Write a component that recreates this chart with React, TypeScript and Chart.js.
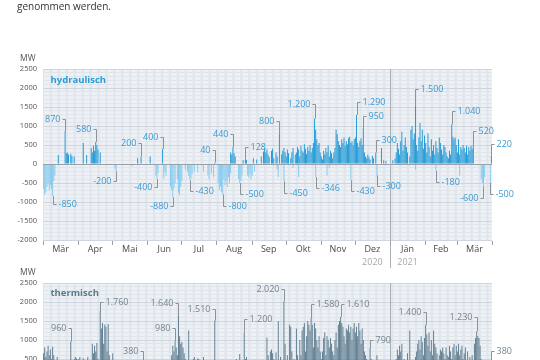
import React, { useEffect, useRef } from "react";
import { Chart, registerables } from "chart.js";

Chart.register(...registerables);

type Pt = [number, number]; // [day of month, MW]
type Note = [number, number, number, "L" | "R", number]; // [month index, day, MW, label side, label offset px]

// ---------- axis data ----------
const monthLabels = ["Mär", "Apr", "Mai", "Jun", "Jul", "Aug", "Sep", "Okt", "Nov", "Dez", "Jän", "Feb", "Mär"];
const monthLengths = [31, 30, 31, 30, 31, 31, 30, 31, 30, 31, 31, 28, 31];
const yearLabels: [string, number][] = [["2020", 9], ["2021", 10]];
const yearBreakMonth = 10;
const yMin = -2000;
const yMax = 2500;
const yLabelStep = 500;
const yGridStep = 100;

// ---------- hydraulisch, positive (MW) ----------
const hydPosMar20: Pt[] = [[14, 240], [20, 870], [21, 280], [22, 300], [23, 250], [25, 270], [26, 220], [28, 200]];
const hydPosApr20: Pt[] = [[5, 550], [8, 240], [12, 420], [13, 300], [14, 480], [15, 350], [16, 580], [17, 500], [18, 380], [20, 300]];
const hydPosMay20: Pt[] = [[23, 150], [26, 200]];
const hydPosJun20: Pt[] = [[3, 200], [14, 400]];
const hydPosJul20: Pt[] = [[30, 40]];
const hydPosAug20: Pt[] = [[13, 300], [14, 250], [15, 440], [16, 280], [17, 200], [24, 100], [26, 128], [27, 110]];
const hydPosSep20: Pt[] = [[2, 150], [5, 120], [9, 200], [11, 330], [12, 420], [13, 300], [14, 380], [15, 250], [16, 180], [18, 350], [19, 400], [20, 150], [22, 300], [23, 200], [25, 800], [27, 250], [28, 350], [29, 420], [30, 300]];
const hydPosOct20: Pt[] = [[1, 200], [2, 380], [3, 280], [5, 150], [6, 300], [7, 420], [9, 250], [10, 300], [11, 450], [12, 380], [13, 200], [14, 480], [15, 350], [16, 300], [17, 520], [18, 400], [19, 260], [20, 450], [21, 350], [22, 500], [23, 300], [24, 420], [25, 550], [26, 1200], [27, 900], [28, 650], [29, 500], [30, 550], [31, 300]];
const hydPosNov20: Pt[] = [[1, 200], [2, 120], [3, 350], [4, 250], [5, 420], [6, 300], [7, 480], [8, 200], [9, 350], [10, 280], [11, 150], [12, 300], [13, 420], [14, 900], [15, 780], [16, 600], [17, 500], [18, 450], [19, 650], [20, 550], [21, 700], [22, 480], [23, 600], [24, 520], [25, 680], [26, 720], [27, 550], [28, 600], [29, 500], [30, 650]];
const hydPosDec20: Pt[] = [[1, 700], [2, 1290], [3, 550], [4, 450], [5, 600], [6, 680], [7, 500], [8, 950], [9, 300], [10, 200], [11, 150], [12, 250], [13, 180], [14, 120], [16, 220], [17, 150], [19, 300], [24, 420], [26, 100], [28, 80]];
const hydPosJan21: Pt[] = [[3, 100], [5, 150], [6, 300], [7, 550], [8, 400], [9, 250], [10, 600], [11, 850], [12, 350], [13, 500], [14, 700], [15, 450], [16, 300], [18, 200], [19, 900], [20, 1000], [21, 650], [22, 800], [23, 1500], [24, 500], [25, 350], [26, 700], [27, 1080], [28, 600], [29, 900], [30, 400], [31, 750]];
const hydPosFeb21: Pt[] = [[1, 550], [2, 300], [3, 800], [4, 450], [5, 200], [6, 650], [7, 350], [8, 500], [9, 250], [10, 600], [11, 420], [12, 300], [13, 700], [14, 550], [15, 380], [16, 250], [17, 500], [18, 450], [19, 300], [20, 200], [21, 150], [22, 350], [23, 250], [24, 1040], [25, 720], [26, 650], [27, 700], [28, 500]];
const hydPosMar21: Pt[] = [[1, 300], [2, 650], [3, 250], [4, 450], [5, 380], [6, 500], [7, 420], [8, 300], [9, 480], [10, 250], [11, 450], [12, 350], [13, 480], [14, 400], [15, 520], [31, 220]];

// ---------- hydraulisch, negative (MW) ----------
const hydNegMar20: Pt[] = [[1, -650], [2, -800], [3, -750], [4, -600], [5, -500], [6, -700], [7, -550], [8, -650], [9, -850], [10, -450], [11, -300]];
const hydNegApr20: Pt[] = [];
const hydNegMay20: Pt[] = [[3, -120], [4, -200], [18, -60]];
const hydNegJun20: Pt[] = [[8, -300], [9, -400], [10, -250], [15, -380], [16, -200], [17, -300], [21, -600], [22, -700], [23, -880], [24, -650], [25, -500], [27, -400], [28, -750], [29, -820], [30, -600]];
const hydNegJul20: Pt[] = [[1, -450], [4, -150], [6, -200], [7, -300], [8, -430], [9, -380], [10, -250], [12, -200], [15, -220], [20, -200], [24, -300], [25, -400], [27, -250], [29, -350]];
const hydNegAug20: Pt[] = [[2, -500], [3, -700], [4, -600], [5, -750], [6, -800], [7, -400], [8, -550], [9, -450], [10, -600], [11, -350], [12, -500], [13, -250], [20, -400], [21, -500], [22, -450], [23, -300], [28, -300], [29, -350], [30, -250], [31, -400]];
const hydNegSep20: Pt[] = [[1, -300], [3, -200], [23, -150], [24, -340], [29, -450]];
const hydNegOct20: Pt[] = [[7, -100], [12, -340], [27, -346]];
const hydNegNov20: Pt[] = [[6, -300], [8, -100], [27, -430]];
const hydNegDec20: Pt[] = [[20, -300]];
const hydNegJan21: Pt[] = [[23, -150]];
const hydNegFeb21: Pt[] = [[10, -180]];
const hydNegMar21: Pt[] = [[3, -300], [22, -400], [23, -500], [24, -600], [25, -350], [30, -500]];

// ---------- thermisch (MW) ----------
const thMar20: Pt[] = [[1, 650], [2, 800], [3, 550], [4, 700], [5, 850], [6, 600], [7, 750], [8, 500], [9, 820], [10, 600], [12, 300], [13, 550], [15, 400], [18, 350], [20, 450], [22, 300], [25, 960], [27, 450], [28, 500], [29, 550], [30, 520], [31, 480]];
const thApr20: Pt[] = [[1, 500], [2, 550], [3, 400], [5, 520], [6, 480], [8, 350], [9, 550], [11, 450], [13, 900], [14, 650], [15, 850], [16, 700], [17, 920], [18, 500], [20, 1760], [21, 1300], [22, 1450], [23, 900], [24, 1400], [25, 1350], [26, 700], [27, 1420], [28, 600], [29, 450], [30, 400]];
const thMay20: Pt[] = [[1, 650], [3, 350], [5, 300], [8, 250], [12, 300], [16, 200], [20, 250], [24, 300], [28, 380]];
const thJun20: Pt[] = [[2, 200], [6, 250], [12, 300], [17, 350], [21, 450], [22, 600], [23, 850], [24, 700], [25, 980], [26, 800], [27, 600], [28, 1640], [29, 1100], [30, 900]];
const thJul20: Pt[] = [[1, 950], [2, 800], [3, 650], [4, 500], [7, 1250], [8, 400], [11, 500], [12, 550], [13, 480], [15, 520], [16, 500], [18, 450], [20, 550], [22, 300], [26, 400], [30, 1510]];
const thAug20: Pt[] = [[3, 300], [8, 350], [14, 450], [18, 500], [21, 630], [25, 1200], [26, 500], [27, 550], [29, 300]];
const thSep20: Pt[] = [[3, 350], [8, 400], [14, 1060], [15, 600], [17, 700], [18, 750], [19, 650], [20, 500], [22, 680], [24, 1500], [26, 550], [29, 2020], [30, 900]];
const thOct20: Pt[] = [[2, 600], [4, 1400], [5, 1350], [6, 700], [8, 500], [10, 1300], [11, 600], [13, 1000], [14, 600], [15, 1250], [16, 1350], [17, 1450], [18, 700], [19, 1100], [20, 1500], [21, 1400], [22, 1250], [23, 1580], [24, 1400], [25, 800], [26, 1450], [27, 1300], [28, 1000], [29, 800], [30, 1100], [31, 700]];
const thNov20: Pt[] = [[1, 500], [2, 700], [3, 1050], [4, 1200], [5, 600], [6, 1100], [7, 1000], [8, 800], [9, 1050], [10, 900], [11, 700], [12, 600], [13, 1000], [14, 1200], [15, 800], [16, 1400], [17, 1500], [18, 1610], [19, 1450], [20, 1350], [21, 1100], [22, 900], [23, 1300], [24, 1250], [25, 1400], [26, 1200], [27, 1350], [28, 1000], [29, 1300], [30, 1450]];
const thDec20: Pt[] = [[1, 1200], [2, 1350], [3, 1100], [4, 1450], [5, 1250], [6, 900], [7, 1300], [8, 1000], [9, 700], [10, 600], [11, 500], [13, 450], [14, 790], [15, 500], [17, 400], [20, 600], [24, 350], [28, 300]];
const thJan21: Pt[] = [[2, 300], [6, 500], [7, 750], [8, 600], [9, 850], [10, 700], [11, 900], [13, 500], [16, 650], [18, 1250], [20, 400], [23, 550], [24, 700], [25, 900], [26, 1000], [27, 750], [28, 1100], [29, 950], [30, 600], [31, 1050]];
const thFeb21: Pt[] = [[1, 1400], [2, 1150], [3, 850], [4, 1200], [5, 700], [6, 1000], [7, 600], [8, 1250], [9, 900], [10, 800], [11, 650], [13, 600], [14, 750], [15, 700], [16, 800], [17, 650], [18, 500], [19, 800], [20, 600], [21, 550], [22, 850], [23, 700], [24, 500], [25, 800], [26, 900], [27, 600], [28, 850]];
const thMar21: Pt[] = [[1, 700], [2, 900], [3, 600], [4, 750], [5, 850], [6, 500], [7, 650], [8, 800], [10, 700], [12, 550], [14, 600], [16, 900], [17, 1050], [18, 1230], [19, 1100], [20, 1050], [21, 850], [22, 500], [24, 300], [26, 250], [31, 380]];

// ---------- annotations ----------
const hydNotes: Note[] = [
  [0, 20, 870, "L", -12], [1, 16, 580, "L", -13], [2, 26, 200, "L", -13], [3, 14, 400, "L", -12],
  [4, 30, 40, "L", -12], [5, 15, 440, "L", -13], [5, 26, 128, "R", -12], [6, 25, 800, "L", -13],
  [7, 26, 1200, "L", -14], [9, 2, 1290, "R", -13], [9, 8, 950, "R", -12], [9, 19, 300, "R", -13],
  [10, 23, 1500, "R", -18], [11, 24, 1040, "R", -13], [12, 15, 520, "R", -13], [12, 31, 220, "R", -12],
  [0, 9, -850, "R", 8], [2, 4, -200, "L", 9], [3, 9, -400, "L", 8], [3, 23, -880, "L", 9],
  [4, 8, -430, "R", 11], [5, 6, -800, "R", 12], [5, 21, -500, "R", 11], [6, 29, -450, "R", 12],
  [7, 27, -346, "R", 11], [8, 27, -430, "R", 11], [9, 20, -300, "R", 11], [11, 10, -180, "R", 11],
  [12, 24, -600, "L", 11], [12, 30, -500, "R", 11],
];
const thNotes: Note[] = [
  [0, 25, 960, "L", -14], [1, 20, 1760, "R", -9], [2, 28, 380, "L", -13], [3, 25, 980, "L", -13],
  [3, 28, 1640, "L", -13], [4, 30, 1510, "L", -12], [5, 25, 1200, "R", -13], [6, 29, 2020, "L", -12],
  [7, 23, 1580, "R", -14], [8, 18, 1610, "R", -13], [9, 14, 790, "R", -8], [11, 1, 1400, "L", -13],
  [12, 18, 1230, "L", -14], [12, 31, 380, "R", -13],
];

// ---------- helpers ----------
const FONT = "'Open Sans', 'Noto Sans', sans-serif";
const monthStart: number[] = [];
monthLengths.reduce((acc, n) => { monthStart.push(acc); return acc + n; }, 0);
const totalDays = monthLengths.reduce((a, b) => a + b, 0);

const toPoints = (months: Pt[][]) =>
  months.flatMap((arr, m) => arr.map(([d, v]) => ({ x: monthStart[m] + d - 0.5, y: v })));

const fmt = (v: number) => (v < 0 ? "-" : "") + Math.abs(v).toString().replace(/\B(?=(\d{3})+(?!\d))/g, ".");

interface PanelCfg {
  plotTop: number;
  height: number;
  title: string;
  titleColor: string;
  titleY: number;
  mwY: number;
  header?: string;
  noteColor: string;
  notes: Note[];
  series: { months: Pt[][]; color: string }[];
}

const PLOT_BG = "#edf0f4";
const WEEKEND_BG = "#e0e6ed";

function makeDecor(p: PanelCfg) {
  return {
    id: "decor",
    beforeDraw(chart: any) {
      const { ctx, chartArea: a, scales } = chart;
      const x = scales.x;
      ctx.save();
      ctx.fillStyle = PLOT_BG;
      ctx.fillRect(a.left, a.top, a.right - a.left, a.bottom - a.top);
      ctx.fillStyle = WEEKEND_BG;
      for (let s = -1; s < totalDays; s += 7) {
        const x0 = x.getPixelForValue(Math.max(s, 0));
        const x1 = x.getPixelForValue(Math.min(s + 2, totalDays));
        ctx.fillRect(x0, a.top, x1 - x0, a.bottom - a.top);
      }
      ctx.restore();
    },
    afterDatasetsDraw(chart: any) {
      const { ctx, chartArea: a, scales } = chart;
      const x = scales.x;
      const y = scales.y;
      ctx.save();
      ctx.lineWidth = 1;
      const line = (x0: number, y0: number, x1: number, y1: number, c: string) => {
        ctx.strokeStyle = c;
        ctx.beginPath();
        ctx.moveTo(x0, y0);
        ctx.lineTo(x1, y1);
        ctx.stroke();
      };
      const yz = Math.round(y.getPixelForValue(0)) + 0.5;
      line(a.left, yz, a.right, yz, "#98a0a8");
      const xb = Math.round(x.getPixelForValue(monthStart[yearBreakMonth])) + 0.5;
      line(xb, a.top, xb, a.bottom + 28, "#aab1b8");
      for (let i = 0; i <= monthLengths.length; i++) {
        const v = i < monthLengths.length ? monthStart[i] : totalDays;
        const px = Math.round(x.getPixelForValue(v)) + 0.5;
        line(px, a.bottom + 1, px, a.bottom + 5, "#9aa0a6");
      }
      ctx.font = `9px ${FONT}`;
      ctx.fillStyle = "#a3a9ae";
      ctx.textAlign = "center";
      ctx.textBaseline = "middle";
      yearLabels.forEach(([t, m]) => ctx.fillText(t, x.getPixelForValue(monthStart[m] + monthLengths[m] / 2), a.bottom + 22));

      ctx.font = `9px ${FONT}`;
      p.notes.forEach(([m, d, v, side, dy]) => {
        const bx = Math.round(x.getPixelForValue(monthStart[m] + d - 0.5)) + 0.5;
        const by = y.getPixelForValue(v);
        const ly = Math.round(by + dy) + 0.5;
        const dir = side === "L" ? -1 : 1;
        ctx.strokeStyle = "#8c9297";
        ctx.beginPath();
        ctx.moveTo(bx, by);
        ctx.lineTo(bx, ly);
        ctx.lineTo(bx + dir * 3, ly);
        ctx.stroke();
        ctx.fillStyle = p.noteColor;
        ctx.textAlign = side === "L" ? "right" : "left";
        ctx.textBaseline = "middle";
        ctx.fillText(fmt(v), bx + dir * 5, ly);
      });

      ctx.textBaseline = "alphabetic";
      ctx.textAlign = "left";
      ctx.font = `bold 9.5px ${FONT}`;
      ctx.fillStyle = p.titleColor;
      ctx.fillText(p.title, a.left + 7.5, p.titleY);
      ctx.font = `8.5px ${FONT}`;
      ctx.fillStyle = "#555";
      ctx.fillText("MW", 20, p.mwY);
      if (p.header) {
        ctx.font = `10px ${FONT}`;
        ctx.fillStyle = "#333";
        ctx.fillText(p.header, 17, 9.5);
      }
      ctx.restore();
    },
  };
}

function buildChart(canvas: HTMLCanvasElement, p: PanelCfg) {
  const yTickVals: number[] = [];
  for (let v = yMin; v <= yMax; v += yGridStep) yTickVals.push(v);
  const xTickVals = monthStart.map((s, i) => s + monthLengths[i] / 2);
  return new Chart(canvas, {
    type: "bar",
    data: {
      datasets: p.series.map((s) => ({
        data: toPoints(s.months) as any,
        backgroundColor: s.color,
        borderWidth: 0,
        grouped: false,
        categoryPercentage: 1,
        barPercentage: 0.85,
      })),
    },
    options: {
      animation: false,
      responsive: false,
      maintainAspectRatio: false,
      layout: { padding: { left: 0, right: 540 - 492, top: p.plotTop, bottom: 0 } },
      plugins: { legend: { display: false }, tooltip: { enabled: false } },
      scales: {
        x: {
          type: "linear",
          min: 0,
          max: totalDays,
          offset: false,
          grid: { display: false, drawTicks: false },
          border: { display: false },
          afterBuildTicks: (s: any) => { s.ticks = xTickVals.map((v) => ({ value: v })); },
          afterFit: (s: any) => { s.height = 30; },
          ticks: {
            autoSkip: false,
            maxRotation: 0,
            padding: 4,
            color: "#4a4a4a",
            font: { family: FONT, size: 9 },
            callback: (_v: any, i: number) => monthLabels[i],
          },
        },
        y: {
          min: yMin,
          max: yMax,
          afterBuildTicks: (s: any) => { s.ticks = yTickVals.map((v) => ({ value: v })); },
          afterFit: (s: any) => { s.width = 43; },
          border: { display: false },
          grid: {
            drawTicks: false,
            color: (c: any) => (c.tick && c.tick.value % yLabelStep === 0 ? "#cfd5dc" : "#e0e5ea"),
          },
          ticks: {
            autoSkip: false,
            padding: 6,
            color: "#555",
            font: { family: FONT, size: 7.5 },
            callback: (v: any) => (Number(v) % yLabelStep === 0 ? String(v) : ""),
          },
        },
      },
    } as any,
    plugins: [makeDecor(p)],
  });
}

const hydPanel: PanelCfg = {
  plotTop: 69,
  height: 270,
  title: "hydraulisch",
  titleColor: "#2a9dd8",
  titleY: 83,
  mwY: 61,
  header: "genommen werden.",
  noteColor: "#3a9ad3",
  notes: hydNotes,
  series: [
    { months: [hydPosMar20, hydPosApr20, hydPosMay20, hydPosJun20, hydPosJul20, hydPosAug20, hydPosSep20, hydPosOct20, hydPosNov20, hydPosDec20, hydPosJan21, hydPosFeb21, hydPosMar21], color: "#1e98d6" },
    { months: [hydNegMar20, hydNegApr20, hydNegMay20, hydNegJun20, hydNegJul20, hydNegAug20, hydNegSep20, hydNegOct20, hydNegNov20, hydNegDec20, hydNegJan21, hydNegFeb21, hydNegMar21], color: "#84caee" },
  ],
};

const BOTTOM_TOP = 264;
const thPanel: PanelCfg = {
  plotTop: 283 - BOTTOM_TOP,
  height: 220,
  title: "thermisch",
  titleColor: "#5e7a8b",
  titleY: 296 - BOTTOM_TOP,
  mwY: 275 - BOTTOM_TOP,
  noteColor: "#75848e",
  notes: thNotes,
  series: [
    { months: [thMar20, thApr20, thMay20, thJun20, thJul20, thAug20, thSep20, thOct20, thNov20, thDec20, thJan21, thFeb21, thMar21], color: "#5f7d90" },
  ],
};

export default function App() {
  const topRef = useRef<HTMLCanvasElement>(null);
  const botRef = useRef<HTMLCanvasElement>(null);
  useEffect(() => {
    const c1 = buildChart(topRef.current!, hydPanel);
    const c2 = buildChart(botRef.current!, thPanel);
    return () => { c1.destroy(); c2.destroy(); };
  }, []);
  return (
    <div style={{ position: "fixed", left: 0, top: 0, width: 540, height: 360, overflow: "hidden", background: "#fff" }}>
      <canvas ref={topRef} width={540} height={hydPanel.height} style={{ position: "absolute", left: 0, top: 0, display: "block" }} />
      <canvas ref={botRef} width={540} height={thPanel.height} style={{ position: "absolute", left: 0, top: BOTTOM_TOP, display: "block" }} />
    </div>
  );
}
